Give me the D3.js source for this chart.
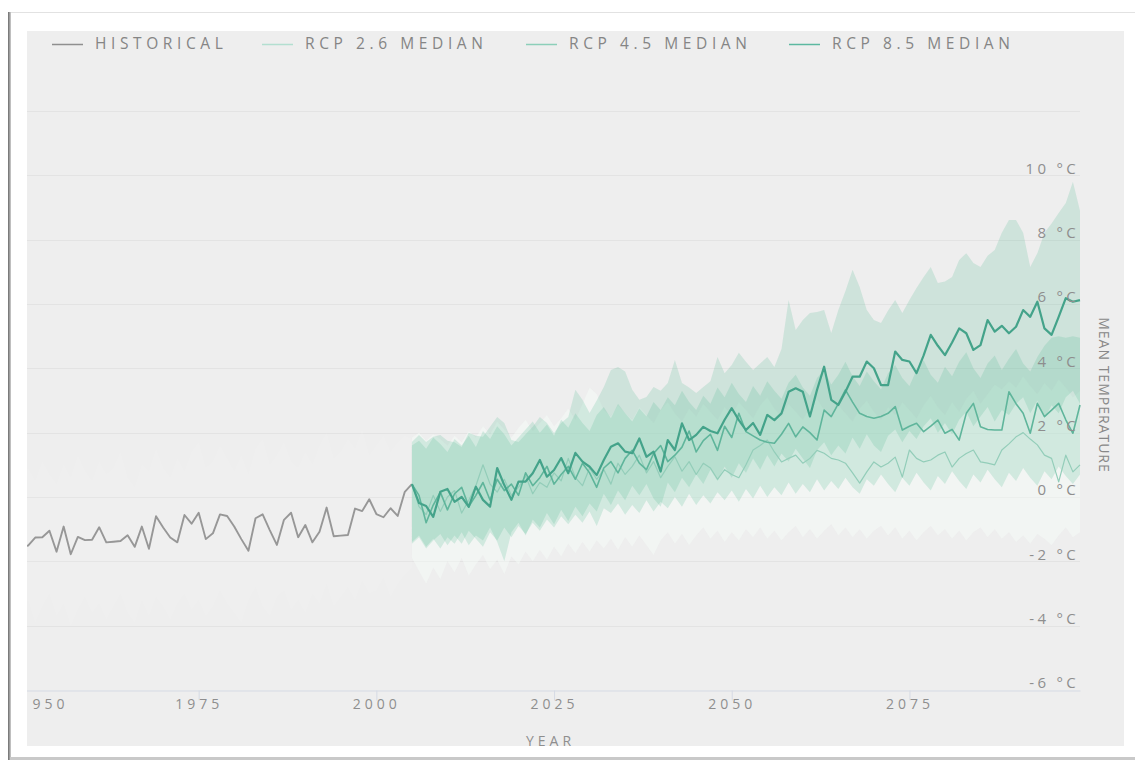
<!DOCTYPE html>
<html>
<head>
<meta charset="utf-8">
<script src="https://cdn.jsdelivr.net/npm/d3@7"></script>
<style>
  html, body { margin: 0; padding: 0; background: #ffffff; }
  svg { display: block; font-family: "Open Sans", "Noto Sans", sans-serif; }
</style>
</head>
<body>
<svg id="chart" width="1135" height="762"></svg>
<script>
// ---- data -------------------------------------------------------------
const histStart = 1950;
// observed annual mean temperature anomaly, 1950–2005 (°C)
const historical = [
  -1.55, -1.51, -1.26, -1.25, -1.05, -1.70, -0.92, -1.78, -1.24, -1.34,
  -1.33, -0.94, -1.41, -1.39, -1.37, -1.19, -1.55, -0.92, -1.61, -0.60,
  -0.95, -1.26, -1.41, -0.56, -0.83, -0.49, -1.31, -1.13, -0.54, -0.59,
  -0.92, -1.31, -1.67, -0.66, -0.54, -1.03, -1.49, -0.71, -0.49, -1.25,
  -0.87, -1.41, -1.08, -0.33, -1.22, -1.20, -1.18, -0.36, -0.44, -0.07,
  -0.53, -0.63, -0.35, -0.59, 0.16, 0.40
];
const historicalHigh = [
  0.6, 0.9, 0.5, 1.1, 0.7, 0.4, 1.0, 0.6, 1.3, 0.8,
  0.5, 1.1, 0.7, 0.9, 1.4, 0.6, 0.3, 1.0, 0.8, 1.5,
  0.9, 0.6, 1.2, 0.8, 1.4, 1.7, 0.9, 1.1, 1.6, 1.2,
  0.8, 1.3, 0.7, 1.5, 1.8, 1.0, 1.3, 1.7, 1.1, 0.9,
  1.4, 1.0, 1.6, 2.0, 1.2, 1.4, 1.8, 1.5, 2.1, 1.3,
  1.6, 1.9, 1.4, 1.7, 1.9, 1.8
];
const historicalLow = [
  -3.6, -3.2, -3.9, -3.4, -3.0, -3.7, -3.3, -4.0, -3.5, -3.1,
  -3.6, -3.3, -3.8, -3.4, -3.0, -3.6, -3.9, -3.2, -3.7, -3.1,
  -3.4, -3.8, -3.3, -3.0, -3.5, -3.2, -3.7, -3.4, -2.9, -3.3,
  -3.6, -3.9, -3.2, -2.8, -3.4, -3.7, -3.1, -2.9, -3.5, -3.2,
  -3.6, -3.0, -3.3, -2.7, -3.4, -3.1, -2.8, -3.2, -2.6, -3.0,
  -2.9, -2.5, -3.1, -2.7, -2.4, -2.2
];

const projStart = 2005;
// scenario medians, 2005–2099 (°C)
const rcp26 = [
  0.40, -0.30, -0.55, 0.05, -0.45, 0.00, 0.20, -0.50, -0.10, 0.35,
  1.00, 0.40, 0.15, 0.55, 0.05, 0.30, 0.65, 0.10, 0.45, 0.30,
  0.75, 0.50, 1.20, 0.60, 0.35, 0.90, 0.55, 0.85, 0.40, 1.05,
  0.70, 0.95, 1.30, 0.75, 1.10, 0.60, 0.95, 1.25, 0.80, 1.10,
  0.70, 1.05, 0.90, 0.55, 0.85, 0.70, 0.60, 1.00, 1.46, 1.60,
  1.77, 1.40, 1.09, 1.20, 1.30, 1.05, 1.20, 1.45, 1.36, 1.20,
  1.15, 1.05, 0.75, 0.43, 0.78, 1.09, 0.93, 1.05, 1.24, 0.62,
  1.46, 1.20, 1.09, 1.15, 1.30, 1.40, 0.93, 1.20, 1.35, 1.46,
  1.09, 1.05, 1.00, 1.46, 1.65, 1.87, 2.00, 1.80, 1.62, 1.30,
  1.20, 0.47, 1.30, 0.78, 1.00
];
const rcp45 = [
  0.40, 0.05, -0.80, -0.25, 0.15, -0.40, 0.10, 0.30, -0.30, 0.05,
  0.45, -0.10, 0.55, 0.20, 0.40, 0.05, 0.75, 0.35, 0.60, 0.95,
  0.40, 0.70, 0.95, 0.55, 1.05, 0.75, 0.30, 0.90, 1.10, 0.75,
  1.20, 1.45, 1.05, 0.85, 1.35, 1.60, 1.10, 1.30, 1.55, 2.05,
  1.40, 1.75, 1.95, 1.45, 2.20, 1.85, 2.60, 2.03, 1.90, 1.77,
  1.70, 1.67, 1.95, 2.29, 1.87, 2.18, 2.00, 1.77, 2.70, 2.50,
  2.90, 3.33, 2.95, 2.60, 2.50, 2.45, 2.50, 2.60, 2.81, 2.08,
  2.20, 2.29, 2.03, 2.20, 2.39, 1.98, 2.10, 1.77, 2.60, 2.91,
  2.18, 2.10, 2.08, 2.08, 3.27, 2.90, 2.60, 1.98, 2.91, 2.50,
  2.70, 2.91, 2.40, 1.98, 2.86
];
const rcp85 = [
  0.40, -0.19, -0.28, -0.62, 0.16, 0.25, -0.15, 0.00, -0.31, 0.32,
  -0.09, -0.30, 0.90, 0.37, -0.09, 0.48, 0.48, 0.74, 1.15, 0.63,
  0.84, 1.21, 0.74, 1.37, 1.10, 0.94, 0.68, 1.15, 1.56, 1.67,
  1.41, 1.36, 1.82, 1.25, 1.41, 0.79, 1.77, 1.46, 2.29, 1.77,
  1.93, 2.18, 2.05, 1.98, 2.40, 2.76, 2.39, 2.08, 2.30, 1.93,
  2.55, 2.39, 2.60, 3.27, 3.38, 3.27, 2.50, 3.33, 4.05, 3.02,
  2.86, 3.27, 3.74, 3.74, 4.21, 4.00, 3.48, 3.48, 4.52, 4.26,
  4.21, 3.85, 4.40, 5.04, 4.70, 4.41, 4.80, 5.24, 5.09, 4.57,
  4.72, 5.50, 5.14, 5.32, 5.09, 5.29, 5.81, 5.60, 6.07, 5.24,
  5.04, 5.60, 6.18, 6.07, 6.12
];

// model spread for each scenario, 2005–2099 (°C)
const rcp26High = [
  1.85, 2.00, 1.75, 1.95, 1.80, 1.60, 1.90, 1.70, 2.05, 1.85,
  2.20, 1.95, 2.35, 2.10, 1.85, 2.15, 2.40, 2.05, 2.30, 2.55,
  2.20, 2.45, 2.75, 2.40, 2.90, 3.40, 3.20, 2.70, 2.50, 2.85,
  2.60, 2.40, 2.80, 2.55, 2.30, 2.70, 2.95, 2.60, 2.35, 2.75,
  2.50, 2.90, 2.65, 2.40, 2.80, 2.55, 2.95, 2.70, 2.45, 2.85,
  3.10, 2.75, 2.50, 2.90, 2.65, 2.40, 2.80, 3.05, 2.70, 2.45,
  2.85, 2.60, 2.35, 2.75, 3.00, 2.65, 2.40, 2.80, 2.55, 2.95,
  2.70, 2.45, 2.85, 3.15, 2.80, 2.55, 2.95, 2.65, 3.05, 3.30,
  2.90, 3.20, 3.50, 3.35, 3.60, 3.40, 3.75, 3.45, 3.20, 3.55,
  3.30, 3.65, 3.40, 3.10, 3.30
];
const rcp26Low = [
  -1.90, -2.30, -2.70, -2.20, -2.55, -2.00, -2.35, -1.90, -2.45, -2.10,
  -1.80, -2.25, -1.95, -2.40, -1.85, -2.10, -1.70, -2.00, -1.65, -1.95,
  -1.55, -1.85, -1.45, -1.75, -1.40, -1.70, -1.35, -1.60, -1.30, -1.65,
  -1.25, -1.55, -1.20, -1.50, -1.80, -1.35, -1.10, -1.45, -1.15, -1.50,
  -1.20, -0.95, -1.30, -1.05, -1.40, -1.10, -1.35, -1.00, -1.25, -0.95,
  -1.30, -1.05, -1.35, -1.10, -0.90, -1.25, -1.00, -1.30, -1.05, -0.85,
  -1.20, -0.95, -1.25, -1.00, -1.30, -1.05, -0.90, -1.20, -0.95, -1.30,
  -1.05, -1.35, -1.10, -0.90, -1.20, -1.00, -1.30, -1.05, -1.35, -1.10,
  -0.95, -1.25, -1.00, -1.30, -1.10, -1.40, -1.20, -1.45, -1.15, -1.30,
  -1.50, -1.20, -0.95, -1.25, -1.10
];
const rcp45High = [
  1.60, 1.75, 1.50, 1.85, 1.65, 1.40, 1.80, 1.60, 1.90, 1.55,
  2.05, 1.80, 2.20, 1.95, 1.60, 1.85, 2.10, 2.35, 2.00, 2.25,
  1.90, 2.40, 2.15, 2.60, 2.30, 2.05, 2.55, 2.80, 2.45, 2.90,
  2.60, 2.35, 2.75, 2.50, 2.95, 2.70, 3.10, 2.85, 3.30, 2.95,
  2.70, 3.15, 2.90, 3.40, 3.10, 3.55, 3.20, 2.95, 3.45, 3.15,
  3.60, 3.30, 3.05, 3.55, 3.80, 3.40, 3.15, 3.70, 3.95, 3.50,
  3.80, 4.20, 3.75, 3.45, 3.90, 3.60, 3.35, 3.85, 4.10, 3.70,
  3.45, 3.95, 4.25, 3.80, 3.55, 4.05, 3.75, 4.20, 4.50, 4.00,
  3.70, 4.15, 4.40, 3.95, 4.30, 4.60, 4.15, 3.90, 4.35, 4.70,
  4.95, 5.00, 4.95, 5.00, 4.95
];
const rcp45Low = [
  -1.45, -1.25, -1.60, -1.35, -1.15, -1.50, -1.20, -1.45, -1.05, -1.30,
  -1.55, -1.10, -1.35, -0.95, -1.25, -0.90, -1.15, -0.80, -1.05, -0.70,
  -0.95, -0.60, -0.85, -0.55, -0.80, -0.45, -0.90, -0.35, -0.50, -0.20,
  -0.55, -0.25, -0.50, -0.10, -0.45, -0.15, -0.35, 0.00, -0.30, 0.10,
  -0.25, 0.05, -0.20, 0.15, -0.10, 0.20, -0.15, 0.25, -0.05, 0.35,
  0.00, 0.30, 0.05, 0.45, 0.10, 0.40, 0.15, 0.55, 0.20, 0.50,
  0.25, 0.60, 0.30, 0.10, 0.55, 0.35, 0.70, 0.40, 0.15, 0.60,
  0.35, 0.75, 0.45, 0.20, 0.65, 0.40, 0.80, 0.50, 0.25, 0.70,
  0.45, 0.85, 0.55, 0.30, 0.75, 0.50, 0.90, 0.60, 0.35, 0.80,
  0.55, 0.95, 0.65, 0.40, 0.70
];
const rcp85High = [
  1.71, 1.93, 1.71, 1.87, 1.93, 1.75, 1.70, 1.55, 2.00, 1.90,
  1.87, 2.18, 2.49, 2.30, 1.77, 1.71, 1.95, 2.18, 2.49, 2.30,
  1.99, 2.30, 2.49, 3.33, 3.02, 2.61, 3.00, 3.42, 3.95, 4.04,
  3.90, 3.33, 3.02, 3.11, 3.42, 3.30, 3.54, 4.26, 3.54, 3.40,
  3.23, 3.42, 3.60, 4.35, 3.85, 4.10, 4.48, 4.20, 3.95, 4.15,
  4.35, 4.04, 4.60, 6.12, 5.19, 5.50, 5.72, 5.75, 5.81, 5.10,
  5.81, 6.40, 7.06, 6.53, 5.81, 5.50, 5.41, 5.80, 6.12, 5.72,
  6.12, 6.50, 6.84, 7.15, 6.65, 6.70, 6.84, 7.37, 7.58, 7.27,
  7.15, 7.50, 7.68, 8.21, 8.61, 8.61, 8.21, 7.15, 7.58, 8.21,
  8.50, 8.83, 9.14, 9.80, 8.90
];
const rcp85Low = [
  -1.40, -1.20, -1.55, -1.30, -1.60, -1.25, -1.45, -1.10, -1.50, -1.20,
  -1.35, -0.95, -1.40, -2.00, -1.10, -0.80, -1.20, -0.70, -0.95, -0.50,
  -0.85, -0.40, -0.75, -0.30, -0.60, -0.20, -0.45, 0.10, -0.25, 0.20,
  -0.10, 0.35, 0.05, 0.40, -0.05, -0.30, 0.45, 0.15, 0.60, 0.30,
  0.70, 0.40, 0.85, 0.50, 0.95, 0.60, 1.05, 0.75, 1.20, 0.85,
  1.30, 0.95, 1.35, 1.10, 1.50, 1.20, 0.90, 1.45, 1.70, 1.30,
  1.60, 1.35, 1.85, 1.50, 1.95, 1.60, 1.40, 1.90, 2.10, 1.70,
  2.05, 1.80, 2.20, 2.45, 2.00, 2.30, 1.95, 2.40, 2.65, 2.20,
  2.50, 2.80, 2.35, 2.70, 2.55, 2.90, 3.10, 2.60, 3.00, 2.45,
  2.85, 2.60, 3.10, 3.30, 2.90
];

const xTicks = [1950, 1975, 2000, 2025, 2050, 2075];
const yTicks = [-6, -4, -2, 0, 2, 4, 6, 8, 10];
const yGrid = [-4, -2, 0, 2, 4, 6, 8, 10, 12];
const legendLabels = ["HISTORICAL", "RCP 2.6 MEDIAN", "RCP 4.5 MEDIAN", "RCP 8.5 MEDIAN"];

// ---- layout -----------------------------------------------------------
const svg = d3.select("#chart");
const panel = { x: 27, y: 31, w: 1097, h: 715 };

const x = d3.scaleLinear().domain([1950, 2099]).range([21, 1080]);
const y = d3.scaleLinear().domain([-6, 14]).range([690, 690 - 20 * 32.17]);

const defs = svg.append("defs");
const shade = defs.append("linearGradient").attr("id", "edgeShade")
  .attr("x1", "0").attr("x2", "1").attr("y1", "0").attr("y2", "0");
shade.append("stop").attr("offset", "0%").attr("stop-color", "#6a6a6a");
shade.append("stop").attr("offset", "100%").attr("stop-color", "#d0d0d0");
defs.append("clipPath").attr("id", "panelClip")
  .append("rect").attr("x", panel.x).attr("y", panel.y)
  .attr("width", panel.w).attr("height", panel.h);

// page frame
svg.append("line").attr("x1", 10).attr("x2", 1135).attr("y1", 12.5).attr("y2", 12.5)
  .attr("stroke", "#e2e2e2").attr("stroke-width", 1);
svg.append("rect").attr("x", 8).attr("y", 12).attr("width", 3).attr("height", 748)
  .attr("fill", "url(#edgeShade)");
svg.append("rect").attr("x", 10).attr("y", 757).attr("width", 1125).attr("height", 3)
  .attr("fill", "#c9c9c9");

// chart panel
svg.append("rect").attr("x", panel.x).attr("y", panel.y)
  .attr("width", panel.w).attr("height", panel.h).attr("fill", "#eeeeee");

const g = svg.append("g").attr("clip-path", "url(#panelClip)");

// horizontal grid
g.append("g").selectAll("line").data(yGrid).join("line")
  .attr("x1", x(1950)).attr("x2", x(2099))
  .attr("y1", d => Math.round(y(d)) + 0.5).attr("y2", d => Math.round(y(d)) + 0.5)
  .attr("stroke", "#e3e3e3").attr("stroke-width", 1);

// series helpers
const histRows = historical.map((v, i) => ({ year: histStart + i, v, lo: historicalLow[i], hi: historicalHigh[i] }));
const projRows = (med, lo, hi) => med.map((v, i) => ({ year: projStart + i, v, lo: lo[i], hi: hi[i] }));

const area = d3.area().x(d => x(d.year)).y0(d => y(d.lo)).y1(d => y(d.hi));
const line = d3.line().x(d => x(d.year)).y(d => y(d.v));

const s26 = projRows(rcp26, rcp26Low, rcp26High);
const s45 = projRows(rcp45, rcp45Low, rcp45High);
const s85 = projRows(rcp85, rcp85Low, rcp85High);

// spread bands
g.append("path").attr("d", area(histRows)).attr("fill", "#ffffff").attr("opacity", 0.1);
g.append("path").attr("d", area(s26)).attr("fill", "#f5fbf8").attr("opacity", 0.5);
g.append("path").attr("d", area(s45)).attr("fill", "#52b793").attr("opacity", 0.2);
g.append("path").attr("d", area(s85)).attr("fill", "#52b793").attr("opacity", 0.2);

// median lines
const series = [
  { rows: histRows, color: "#979797", width: 1.9 },
  { rows: s26, color: "#93cdb9", width: 1.2 },
  { rows: s45, color: "#5fb59b", width: 1.6 },
  { rows: s85, color: "#44a38a", width: 2.2 }
];
series.forEach(s => {
  g.append("path").attr("d", line(s.rows)).attr("fill", "none")
    .attr("stroke", s.color).attr("stroke-width", s.width)
    .attr("stroke-linejoin", "round");
});

// x axis
const xAxis = d3.axisBottom(x).tickValues(xTicks).tickFormat(d3.format("d"))
  .tickSize(10).tickSizeOuter(0);
const xa = g.append("g").attr("transform", "translate(0,690.5)").call(xAxis);
xa.select(".domain").attr("stroke", "#d5dae4");
xa.selectAll(".tick line").attr("stroke", "#d5dae4");
xa.selectAll(".tick text")
  .attr("fill", "#8e8e8e").attr("font-size", 14).attr("letter-spacing", "4px")
  .attr("font-family", "'Open Sans', sans-serif").attr("dy", "0.55em")
  .attr("y", 11);
xa.selectAll(".tick text").filter(d => d === xTicks[0])
  .attr("text-anchor", "start").attr("x", -1);

// y labels on the right
g.append("g").selectAll("text").data(yTicks).join("text")
  .attr("x", 1079).attr("y", d => y(d) - 7).attr("dy", "0.35em")
  .attr("text-anchor", "end").attr("fill", "#8e8e8e")
  .attr("font-size", 15).attr("letter-spacing", "3.3px")
  .text(d => `${d} °C`);

// axis titles
g.append("text").attr("x", (x(1950) + x(2099)) / 2).attr("y", 741).attr("dy", "0.35em")
  .attr("text-anchor", "middle").attr("fill", "#8e8e8e")
  .attr("font-size", 14).attr("letter-spacing", "4px").text("YEAR");
g.append("text").attr("transform", "translate(1104,395) rotate(90)")
  .attr("dy", "0.35em").attr("text-anchor", "middle").attr("fill", "#888888")
  .attr("font-size", 14).attr("letter-spacing", "1px").text("MEAN TEMPERATURE");

// legend
const legendX = [95, 305, 569, 832];
const legendColors = ["#8f8f8f", "#b3dfd0", "#8ccfb9", "#5cb8a0"];
const lg = g.append("g");
legendLabels.forEach((label, i) => {
  lg.append("line").attr("x1", legendX[i] - 43).attr("x2", legendX[i] - 12)
    .attr("y1", 44.5).attr("y2", 44.5)
    .attr("stroke", legendColors[i]).attr("stroke-width", 1.5);
  lg.append("text").attr("x", legendX[i]).attr("y", 44).attr("dy", "0.35em")
    .attr("fill", "#858585").attr("font-size", 15.5).attr("letter-spacing", "4.6px")
    .text(label);
});
</script>
</body>
</html>
